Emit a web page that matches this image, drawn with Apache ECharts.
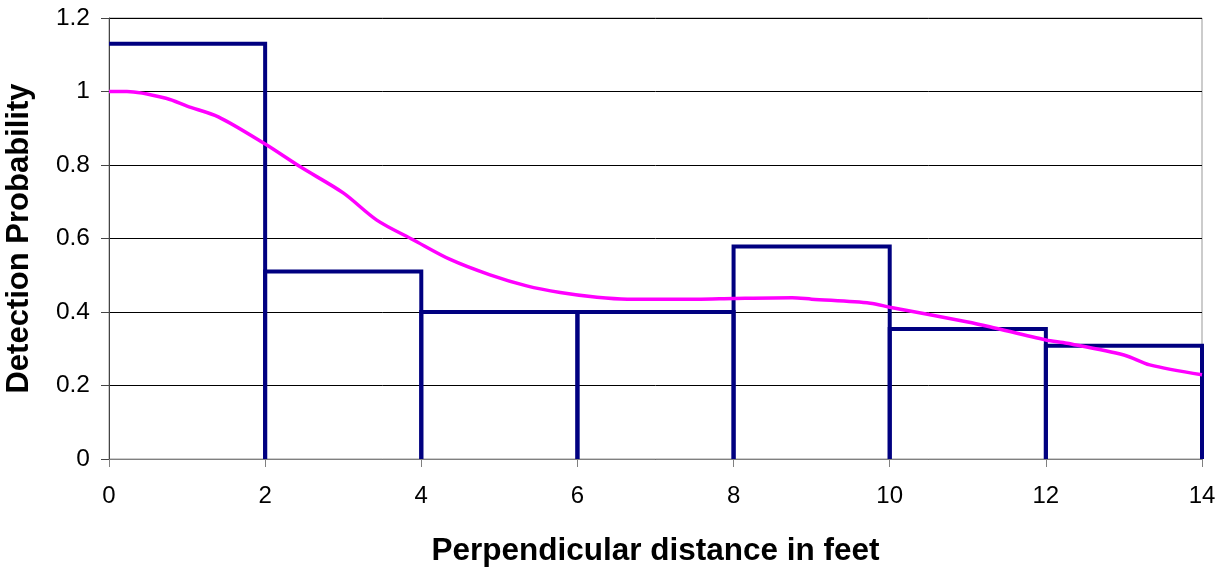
<!DOCTYPE html>
<html>
<head>
<meta charset="utf-8">
<script src="https://cdn.jsdelivr.net/npm/echarts@6/dist/echarts.min.js"></script>
<style>
  html, body { margin: 0; padding: 0; background: #fff; }
  #chart { width: 1220px; height: 568px; }
</style>
</head>
<body>
<div id="chart"></div>
<script>
// histogram bins (feet) and heights
const binEdges = [0, 2, 4, 6, 8, 10, 12, 14];
const binHeights = [1.13, 0.51, 0.40, 0.40, 0.578, 0.354, 0.308];

// fitted detection curve
const curveX = [0, 0.23, 0.74, 1.0, 1.4, 2.0, 2.45, 3.0, 3.43, 3.9, 4.37, 4.88, 5.35, 5.78, 6.25, 6.64, 7.0, 7.53, 8.0, 8.75, 9.0, 9.75, 10.0, 11.0, 11.28, 12.0, 12.27, 13.0, 13.33, 14.0];
const curveY = [1.0, 1.0, 0.981, 0.96, 0.931, 0.857, 0.795, 0.724, 0.65, 0.596, 0.543, 0.501, 0.471, 0.453, 0.44, 0.435, 0.435, 0.435, 0.437, 0.439, 0.435, 0.424, 0.413, 0.373, 0.36, 0.324, 0.315, 0.283, 0.256, 0.229];

const xTicks = [0, 2, 4, 6, 8, 10, 12, 14];
const yTicks = [0, 0.2, 0.4, 0.6, 0.8, 1, 1.2];

const bins = binHeights.map((h, i) => [binEdges[i], binEdges[i + 1], h]);
const curve = curveX.map((x, i) => [x, curveY[i]]);

const chart = echarts.init(document.getElementById('chart'));

const option = {
  animation: false,
  textStyle: { fontFamily: 'Liberation Sans, Arial, sans-serif' },
  grid: {
    left: 109, right: 18, top: 18, bottom: 109,
    outerBoundsMode: 'none',
    containLabel: false,
    show: true, borderColor: '#999', borderWidth: 1
  },
  xAxis: {
    type: 'value',
    min: 0, max: 14, interval: 2,
    name: 'Perpendicular distance in feet',
    nameLocation: 'middle',
    nameGap: 76,
    nameTextStyle: { fontSize: 31.5, fontWeight: 'bold', color: '#000' },
    axisLine: { show: true, lineStyle: { color: '#808080', width: 1 } },
    axisTick: { show: true, length: 8, lineStyle: { color: '#808080' } },
    axisLabel: { fontSize: 24, color: '#000', margin: 25,
      formatter: v => xTicks.includes(v) ? String(v) : '' },
    splitLine: { show: false }
  },
  yAxis: {
    type: 'value',
    min: 0, max: 1.2, interval: 0.2,
    name: 'Detection Probability',
    nameLocation: 'middle',
    nameGap: 74,
    nameTextStyle: { fontSize: 31, fontWeight: 'bold', color: '#000' },
    axisLine: { show: true, lineStyle: { color: '#444', width: 1 } },
    axisTick: { show: true, length: 8, lineStyle: { color: '#444' } },
    axisLabel: { fontSize: 24.5, color: '#000', margin: 19,
      formatter: v => {
        const t = yTicks.find(y => Math.abs(y - v) < 1e-6);
        return t === undefined ? '' : String(t);
      } },
    splitLine: { show: true, lineStyle: { color: '#000', width: 1 } }
  },
  series: [
    {
      type: 'custom',
      data: bins,
      renderItem: function (params, api) {
        const l = api.value(0), r = api.value(1), h = api.value(2);
        // first bin's left side sits on the y axis and is not drawn
        const pts = l > binEdges[0] ? [api.coord([l, 0])] : [];
        pts.push(api.coord([l, h]), api.coord([r, h]), api.coord([r, 0]));
        return {
          type: 'polyline',
          shape: { points: pts },
          style: { stroke: '#000080', lineWidth: 4, fill: null }
        };
      },
      z: 3
    },
    {
      type: 'line',
      data: curve,
      showSymbol: false,
      smooth: 0.3,
      lineStyle: { color: '#ff00ff', width: 3.5 },
      z: 4
    }
  ]
};

chart.setOption(option);
</script>
</body>
</html>
